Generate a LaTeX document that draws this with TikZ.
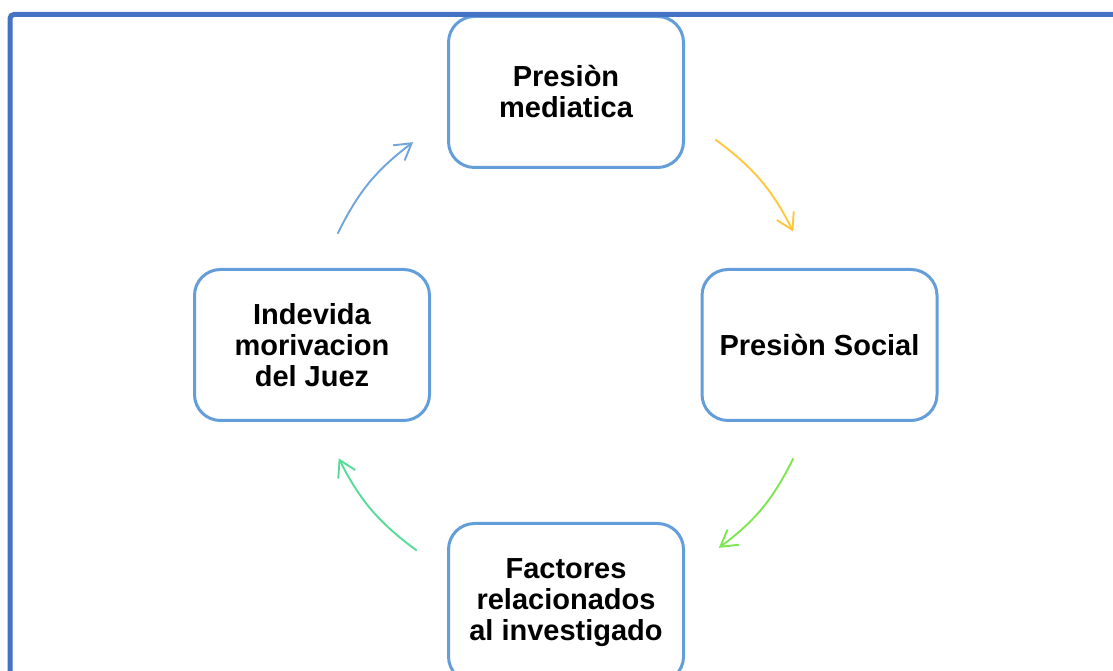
\documentclass[tikz,border=0pt]{standalone}
\usepackage{fontspec}
\setmainfont{Liberation Sans}
\usetikzlibrary{arrows.meta}
\definecolor{frameblue}{RGB}{68,114,196}
\definecolor{boxblue}{RGB}{100,158,218}
\definecolor{arrblue}{RGB}{110,165,220}
\definecolor{arryellow}{RGB}{255,200,60}
\definecolor{arrgreen}{RGB}{125,230,80}
\definecolor{arrteal}{RGB}{85,220,150}

\begin{document}
\begin{tikzpicture}[x=1pt, y=1pt,
	stage/.style={draw=boxblue, line width=3pt, fill=white, rounded corners=26pt,
		minimum width=235pt, minimum height=151pt, align=center,
		font=\fontsize{29}{31}\selectfont\bfseries},
	cyc/.style={line width=1.9pt, bend left=13.5,
		-{Straight Barb[length=16pt, width=19pt, line width=1.9pt]}}]
	\useasboundingbox (0,0) rectangle (1113,671);

	% the four stages
	\node[stage] (presmed) at (566,579) {Presiòn\\mediatica};
	\node[stage] (pressoc) at (819.5,326) {Presiòn Social};
	\node[stage, minimum height=159pt] (factores) at (566,68) {Factores\\relacionados\\al investigado};
	\node[stage] (motiv) at (312,326) {Indevida\\morivacion\\del Juez};

	% arc ends round the middle
	\coordinate (o) at (566,326);
	\path (o) ++(154:254) coordinate (b1) (o) ++(127:254) coordinate (b2);
	\path (o) ++(54:254) coordinate (y1) (o) ++(26.5:254) coordinate (y2);
	\path (o) ++(-26.5:254) coordinate (g1) (o) ++(-53:254) coordinate (g2);
	\path (o) ++(-126:254) coordinate (t1) (o) ++(-153.5:254) coordinate (t2);

	\draw[cyc, arrblue] (b1) to (b2);
	\draw[cyc, arryellow] (y1) to (y2);
	\draw[cyc, arrgreen] (g1) to (g2);
	\draw[cyc, arrteal] (t1) to (t2);

	% frame
	\draw[frameblue, line width=5pt, rounded corners=4pt] (10,-20) -- (10,656.5) -- (1140,656.5);
\end{tikzpicture}
\end{document}
